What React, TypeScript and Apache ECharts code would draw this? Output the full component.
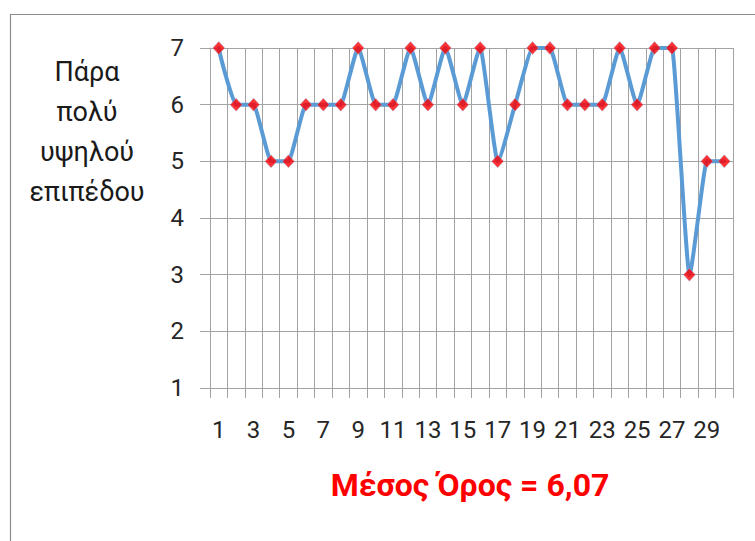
import React, { useEffect, useRef } from "react";
import * as echarts from "echarts";

const categories = Array.from({ length: 30 }, (_, i) => String(i + 1));
const values = [7, 6, 6, 5, 5, 6, 6, 6, 7, 6, 6, 7, 6, 7, 6, 7, 5, 6, 7, 7, 6, 6, 6, 7, 6, 7, 7, 3, 5, 5];
const yTicks = { min: 1, max: 7, interval: 1 };
const sideTitle = ["Πάρα", "πολύ", "υψηλού", "επιπέδου"];
const meanText = "Μέσος Όρος = 6,07";

export default function App() {
  const ref = useRef<HTMLDivElement>(null);
  useEffect(() => {
    if (!ref.current) return;
    const chart = echarts.init(ref.current, undefined, { renderer: "svg" });
    const font = "Roboto, 'Open Sans', sans-serif";
    const grey = "#a3a3a3";
    const n = values.length;
    const sign = (v: number) => (v < 0 ? -1 : v > 0 ? 1 : 0);
    const renderSegment = (params: any, api: any) => {
      const i = params.dataIndex;
      if (i >= n - 1) return null;
      const pts = values.map((v, k) => api.coord([k, v]));
      const slopes: number[] = [];
      for (let k = 0; k < n - 1; k++) {
        slopes.push((pts[k + 1][1] - pts[k][1]) / (pts[k + 1][0] - pts[k][0]));
      }
      const tang: number[] = new Array(n).fill(0);
      for (let k = 1; k < n - 1; k++) {
        const h0 = pts[k][0] - pts[k - 1][0];
        const h1 = pts[k + 1][0] - pts[k][0];
        const s0 = slopes[k - 1];
        const s1 = slopes[k];
        const p = (s0 * h1 + s1 * h0) / (h0 + h1);
        tang[k] = (sign(s0) + sign(s1)) * Math.min(Math.abs(s0), Math.abs(s1), 0.5 * Math.abs(p)) || 0;
      }
      tang[0] = (3 * slopes[0] - tang[1]) / 2;
      tang[n - 1] = (3 * slopes[n - 2] - tang[n - 2]) / 2;
      const a = pts[i];
      const b = pts[i + 1];
      const dx = (b[0] - a[0]) * 0.16;
      return {
        type: "bezierCurve",
        shape: {
          x1: a[0],
          y1: a[1],
          x2: b[0],
          y2: b[1],
          cpx1: a[0] + dx,
          cpy1: a[1] + dx * tang[i],
          cpx2: b[0] - dx,
          cpy2: b[1] - dx * tang[i + 1],
        },
        style: { stroke: "#5b9bd5", lineWidth: 4, fill: "none", lineCap: "round" },
      };
    };
    chart.setOption({
      animation: false,
      backgroundColor: "#ffffff",
      grid: { left: 210, right: 22, top: 48, bottom: 153 },
      xAxis: {
        type: "category",
        data: categories,
        boundaryGap: true,
        axisLine: { show: true, lineStyle: { color: grey, width: 1 } },
        axisTick: { show: true, interval: 0, length: 10, lineStyle: { color: grey } },
        splitLine: { show: true, interval: 0, lineStyle: { color: grey, width: 1 } },
        axisLabel: { interval: 1, margin: 30, color: "#262626", fontSize: 24, fontFamily: font },
      },
      yAxis: {
        type: "value",
        min: yTicks.min,
        max: yTicks.max,
        interval: yTicks.interval,
        axisLine: { show: true, lineStyle: { color: grey, width: 1 } },
        axisTick: { show: true, length: 10, lineStyle: { color: grey } },
        splitLine: { show: true, lineStyle: { color: grey, width: 1 } },
        axisLabel: { margin: 26, color: "#262626", fontSize: 24, fontFamily: font },
      },
      series: [
        {
          type: "custom",
          data: values.map((v, i) => [i, v]),
          renderItem: renderSegment,
          z: 2,
          silent: true,
        },
        {
          type: "scatter",
          data: values.map((v, i) => [i, v]),
          symbol: "diamond",
          symbolSize: [12, 13],
          itemStyle: { color: "#ff0000", borderColor: "#9dbde6", borderWidth: 0.6 },
          z: 3,
        },
      ],
      graphic: [
        {
          type: "rect",
          left: 8,
          top: 12,
          shape: { width: 800, height: 600 },
          style: { fill: "none", stroke: "#8c8c8c", lineWidth: 1.2 },
          silent: true,
        },
        {
          type: "text",
          x: 87,
          y: 52,
          style: {
            text: sideTitle.join("\n"),
            fill: "#1a1a1a",
            font: `27px ${font}`,
            lineHeight: 40,
            align: "center",
            verticalAlign: "top",
          },
        },
        {
          type: "text",
          x: 470,
          y: 485,
          style: {
            text: meanText,
            fill: "#ff0000",
            font: `bold 32px ${font}`,
            align: "center",
            verticalAlign: "middle",
          },
        },
      ],
    });
    return () => chart.dispose();
  }, []);
  return (
    <div
      ref={ref}
      style={{ position: "fixed", left: 0, top: 0, width: 755, height: 541 }}
    />
  );
}
